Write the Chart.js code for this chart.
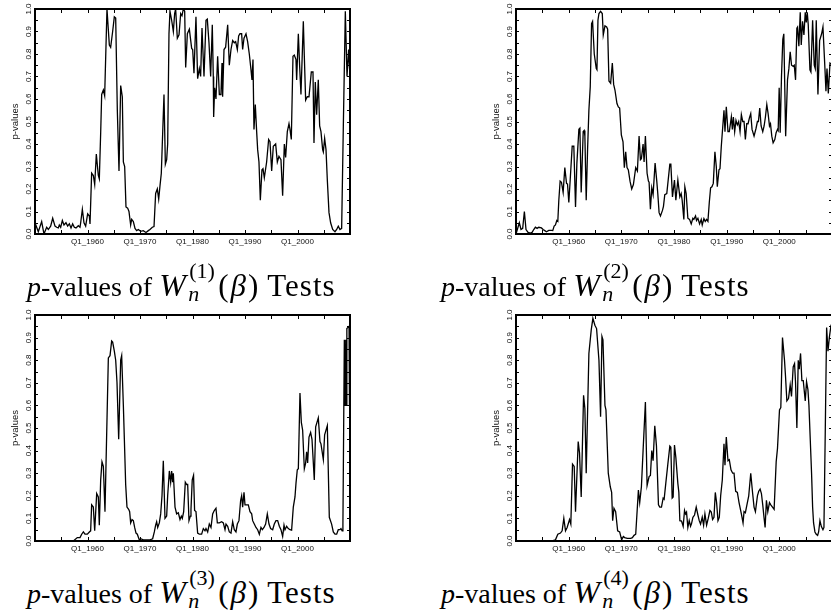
<!DOCTYPE html>
<html><head><meta charset="utf-8">
<script src="https://cdn.jsdelivr.net/npm/chart.js@4.4.0/dist/chart.umd.min.js"></script>
<style>
html,body{margin:0;padding:0;width:831px;height:613px;overflow:hidden;background:#fff;}
canvas{position:absolute;}
.cap{position:absolute;font-family:"Liberation Serif","Times New Roman",serif;font-size:28px;line-height:40px;height:40px;white-space:nowrap;color:#000;}
.cap i{font-style:italic;}
.cap .W{display:inline-block;width:30px;font-size:32px;font-style:italic;}
.cap .ss{display:inline-block;position:relative;width:29px;height:1px;vertical-align:baseline;}
.cap .ss .sup{position:absolute;left:0;top:-35px;font-size:22px;line-height:22px;}
.cap .ss .sub{position:absolute;left:-1px;top:-12px;font-size:22px;line-height:22px;font-style:italic;}
.cap .b{font-size:31px;letter-spacing:2px;}
.cap .t{font-size:31px;letter-spacing:1px;}
</style></head>
<body>
<canvas id="c1" width="415" height="255" style="left:0;top:0"></canvas>
<canvas id="c2" width="420" height="255" style="left:415px;top:0"></canvas>
<canvas id="c3" width="415" height="260" style="left:0;top:300px"></canvas>
<canvas id="c4" width="420" height="260" style="left:415px;top:300px"></canvas>
<div class="cap" style="left:27px;top:265px"><i>p</i>-values of <span class="W">W</span><span class="ss"><span class="sup">(1)</span><span class="sub">n</span></span><span class="b">(<i>β</i>)</span> <span class="t">Tests</span></div>
<div class="cap" style="left:441px;top:265px"><i>p</i>-values of <span class="W">W</span><span class="ss"><span class="sup">(2)</span><span class="sub">n</span></span><span class="b">(<i>β</i>)</span> <span class="t">Tests</span></div>
<div class="cap" style="left:27px;top:572px"><i>p</i>-values of <span class="W">W</span><span class="ss"><span class="sup">(3)</span><span class="sub">n</span></span><span class="b">(<i>β</i>)</span> <span class="t">Tests</span></div>
<div class="cap" style="left:441px;top:572px"><i>p</i>-values of <span class="W">W</span><span class="ss"><span class="sup">(4)</span><span class="sub">n</span></span><span class="b">(<i>β</i>)</span> <span class="t">Tests</span></div>
<script>
// ---- data ----
const xTickYears = [1960, 1970, 1980, 1990, 2000];
const xTickLabels = ['Q1_1960', 'Q1_1970', 'Q1_1980', 'Q1_1990', 'Q1_2000'];
const yTickValues = [0, 0.1, 0.2, 0.3, 0.4, 0.5, 0.6, 0.7, 0.8, 0.9, 1.0];
const yAxisTitle = 'p-values';

// [year, p-value] for W_n^(1)
const series1 = [
[1950.00,0.050],[1950.63,0.010],[1951.27,0.055],[1951.71,0.000],[1952.22,0.030],[1952.54,0.020],[1952.98,0.035],[1953.37,0.070],[1953.81,0.035],[1954.13,0.030],
[1954.44,0.027],[1954.63,0.040],[1954.89,0.030],[1955.21,0.060],[1955.52,0.040],[1955.90,0.050],[1956.22,0.035],[1956.54,0.045],[1956.86,0.027],[1957.17,0.045],
[1957.49,0.030],[1957.81,0.027],[1958.25,0.037],[1958.57,0.030],[1958.70,0.050],[1959.02,0.110],[1959.33,0.050],[1959.65,0.035],[1960.03,0.090],[1960.35,0.080],
[1960.48,0.045],[1960.79,0.270],[1961.11,0.260],[1961.37,0.220],[1961.68,0.355],[1962.06,0.260],[1962.25,0.245],[1962.51,0.450],[1962.70,0.620],[1963.02,0.640],
[1963.27,0.615],[1963.71,1.000],[1964.16,0.840],[1964.41,0.830],[1964.79,0.900],[1965.11,0.965],[1965.37,0.960],[1965.68,0.550],[1966.00,0.280],[1966.32,0.660],
[1966.63,0.610],[1966.83,0.320],[1967.08,0.300],[1967.33,0.120],[1967.65,0.115],[1967.90,0.100],[1968.22,0.040],[1968.41,0.065],[1968.73,0.055],[1969.05,0.025],
[1969.37,0.015],[1969.68,0.020],[1970.13,0.012],[1970.63,0.015],[1971.14,0.007],[1971.59,0.015],[1971.90,0.020],[1972.35,0.030],[1972.67,0.033],[1972.98,0.180],
[1973.30,0.200],[1973.56,0.155],[1973.81,0.215],[1974.06,0.270],[1974.32,0.450],[1974.57,0.620],[1974.83,0.310],[1975.08,0.330],[1975.27,0.400],[1975.52,0.890],
[1975.71,0.990],[1976.03,0.950],[1976.35,0.900],[1976.60,0.980],[1976.79,1.000],[1977.11,0.870],[1977.43,0.885],[1977.75,0.980],[1978.00,0.970],[1978.25,1.000],
[1978.51,0.990],[1978.70,0.740],[1979.02,0.890],[1979.40,0.910],[1979.84,0.825],[1980.03,0.820],[1980.28,0.715],[1980.66,0.965],[1980.98,0.690],[1981.30,0.735],
[1981.55,0.700],[1981.81,0.915],[1982.19,0.700],[1982.57,0.950],[1982.82,0.955],[1983.14,0.850],[1983.46,0.700],[1983.77,0.930],[1983.96,0.700],[1984.03,0.520],
[1984.22,0.650],[1984.47,0.600],[1984.79,0.790],[1985.11,0.620],[1985.42,0.620],[1985.62,0.760],[1985.74,0.610],[1986.00,0.820],[1986.31,0.830],[1986.70,0.930],
[1987.01,0.750],[1987.33,0.820],[1987.65,0.860],[1987.96,0.850],[1988.22,0.855],[1988.54,0.820],[1988.79,0.880],[1989.04,0.890],[1989.36,0.890],[1989.55,0.820],
[1989.81,0.870],[1990.19,0.890],[1990.50,0.855],[1990.82,0.800],[1991.14,0.730],[1991.33,0.685],[1991.52,0.775],[1991.71,0.465],[1991.96,0.575],[1992.22,0.455],
[1992.41,0.375],[1992.66,0.320],[1992.92,0.150],[1993.23,0.285],[1993.43,0.290],[1993.68,0.250],[1994.12,0.320],[1994.50,0.420],[1994.76,0.410],[1995.08,0.280],
[1995.39,0.390],[1995.84,0.400],[1996.16,0.320],[1996.47,0.345],[1996.85,0.330],[1997.17,0.170],[1997.49,0.400],[1997.74,0.340],[1998.06,0.455],[1998.38,0.490],
[1998.57,0.465],[1998.82,0.420],[1999.14,0.790],[1999.39,0.795],[1999.71,0.775],[1999.84,0.685],[2000.16,0.890],[2000.41,0.745],[2000.66,0.620],[2001.11,0.945],
[2001.30,0.790],[2001.55,0.595],[2001.87,0.610],[2002.19,0.610],[2002.63,0.720],[2002.95,0.720],[2003.14,0.405],[2003.39,0.675],[2003.65,0.530],[2003.96,0.685],
[2004.22,0.480],[2004.47,0.455],[2004.79,0.375],[2004.92,0.365],[2005.17,0.425],[2005.43,0.375],[2005.68,0.240],[2006.00,0.095],[2006.31,0.050],[2006.70,0.020],
[2007.14,0.010],[2007.46,0.020],[2007.77,0.035],[2008.09,0.020],[2008.41,0.025],[2008.73,0.480],[2009.11,0.990],[2009.43,0.700],[2009.74,0.820],[2010.00,0.700]
];

// [year, p-value] for W_n^(2)
const series2 = [
[1950.00,0.000],[1950.63,0.050],[1950.95,0.020],[1951.27,0.025],[1951.59,0.100],[1951.90,0.020],[1952.29,0.007],[1952.73,0.004],[1953.05,0.007],[1953.37,0.020],
[1953.68,0.030],[1954.00,0.025],[1954.32,0.030],[1954.83,0.027],[1955.14,0.020],[1955.46,0.015],[1955.78,0.010],[1956.22,0.016],[1956.73,0.016],[1956.98,0.015],
[1957.24,0.035],[1957.49,0.040],[1957.75,0.060],[1957.94,0.056],[1958.13,0.150],[1958.38,0.235],[1958.63,0.230],[1958.95,0.185],[1959.27,0.295],[1959.59,0.225],
[1959.78,0.222],[1960.03,0.140],[1960.29,0.240],[1960.67,0.390],[1960.98,0.390],[1961.30,0.120],[1961.56,0.315],[1961.94,0.465],[1962.13,0.470],[1962.38,0.185],
[1962.76,0.455],[1962.95,0.460],[1963.08,0.435],[1963.33,0.150],[1963.59,0.375],[1963.84,0.550],[1964.10,0.655],[1964.35,0.935],[1964.54,0.945],[1964.86,0.800],
[1965.24,0.735],[1965.37,0.730],[1965.56,0.950],[1965.75,0.980],[1966.06,0.990],[1966.38,0.980],[1966.57,0.885],[1966.89,0.925],[1967.21,0.920],[1967.40,0.910],
[1967.65,0.680],[1967.97,0.670],[1968.29,0.760],[1968.54,0.665],[1968.79,0.640],[1969.17,0.580],[1969.43,0.565],[1969.68,0.560],[1970.00,0.440],[1970.32,0.410],
[1970.57,0.295],[1970.83,0.365],[1971.08,0.295],[1971.33,0.285],[1971.65,0.235],[1971.97,0.200],[1972.29,0.220],[1972.73,0.295],[1973.05,0.280],[1973.37,0.435],
[1973.62,0.330],[1973.81,0.335],[1974.13,0.400],[1974.32,0.320],[1974.57,0.435],[1974.89,0.270],[1975.14,0.235],[1975.27,0.230],[1975.52,0.110],[1975.78,0.205],
[1976.03,0.175],[1976.41,0.315],[1976.73,0.235],[1976.92,0.180],[1977.17,0.095],[1977.43,0.080],[1977.81,0.105],[1978.00,0.123],[1978.25,0.175],[1978.63,0.180],
[1979.21,0.310],[1979.40,0.310],[1979.71,0.165],[1980.09,0.240],[1980.35,0.150],[1980.73,0.240],[1981.11,0.165],[1981.36,0.180],[1981.55,0.150],[1981.87,0.065],
[1982.06,0.210],[1982.31,0.180],[1982.63,0.070],[1982.95,0.065],[1983.27,0.045],[1983.58,0.070],[1983.77,0.065],[1984.09,0.080],[1984.28,0.060],[1984.54,0.070],
[1984.86,0.045],[1985.17,0.065],[1985.36,0.040],[1985.68,0.068],[1985.93,0.056],[1986.19,0.065],[1986.44,0.056],[1986.70,0.140],[1986.95,0.205],[1987.20,0.210],
[1987.46,0.225],[1987.77,0.365],[1988.03,0.300],[1988.22,0.210],[1988.54,0.285],[1988.73,0.290],[1988.98,0.390],[1989.49,0.550],[1989.68,0.455],[1989.93,0.565],
[1990.25,0.455],[1990.50,0.455],[1990.89,0.520],[1991.08,0.465],[1991.27,0.520],[1991.52,0.455],[1991.77,0.505],[1992.03,0.485],[1992.28,0.500],[1992.54,0.455],
[1992.79,0.530],[1993.05,0.500],[1993.30,0.500],[1993.55,0.420],[1993.81,0.490],[1994.06,0.490],[1994.31,0.515],[1994.57,0.535],[1994.82,0.465],[1995.20,0.435],
[1995.58,0.470],[1995.84,0.500],[1996.03,0.500],[1996.28,0.560],[1996.54,0.480],[1996.85,0.455],[1997.11,0.480],[1997.36,0.520],[1997.62,0.575],[1997.87,0.535],
[1998.13,0.480],[1998.32,0.490],[1998.57,0.435],[1998.82,0.405],[1999.14,0.420],[1999.39,0.450],[1999.65,0.465],[1999.78,0.460],[1999.97,0.650],[2000.16,0.450],
[2000.41,0.700],[2000.66,0.865],[2000.85,0.890],[2001.20,0.435],[2001.55,0.685],[2001.81,0.735],[2002.06,0.810],[2002.32,0.750],[2002.63,0.745],[2002.83,0.750],
[2003.08,0.685],[2003.33,0.915],[2003.46,0.920],[2003.71,0.835],[2003.97,0.985],[2004.16,0.840],[2004.41,0.945],[2004.67,0.885],[2004.92,0.985],[2005.11,0.940],
[2005.30,0.985],[2005.49,0.930],[2005.81,0.730],[2006.00,0.720],[2006.32,0.950],[2006.63,0.750],[2006.82,0.735],[2007.01,0.950],[2007.33,0.620],[2007.65,0.860],
[2008.03,0.890],[2008.28,0.920],[2008.66,0.735],[2008.85,0.635],[2009.05,0.735],[2009.30,0.625],[2009.62,0.760],[2009.87,0.755]
];

// [year, p-value] for W_n^(3)
const series3 = [
[1950.00,0.000],[1957.30,0.000],[1958.06,0.015],[1958.57,0.015],[1958.89,0.030],[1959.21,0.040],[1959.52,0.030],[1959.97,0.030],[1960.35,0.040],[1960.60,0.045],
[1960.79,0.160],[1961.11,0.150],[1961.37,0.045],[1961.75,0.210],[1962.06,0.195],[1962.25,0.070],[1962.51,0.270],[1962.76,0.350],[1963.02,0.330],[1963.33,0.130],
[1963.97,0.810],[1964.29,0.820],[1964.60,0.885],[1964.79,0.880],[1965.11,0.840],[1965.37,0.800],[1965.62,0.700],[1965.94,0.450],[1966.32,0.800],[1966.51,0.820],
[1966.83,0.600],[1967.02,0.450],[1967.27,0.250],[1967.52,0.150],[1967.84,0.140],[1968.03,0.130],[1968.22,0.080],[1968.48,0.095],[1968.73,0.090],[1968.98,0.060],
[1969.24,0.035],[1969.49,0.030],[1969.87,0.005],[1970.13,0.010],[1970.63,0.005],[1971.27,0.005],[1971.90,0.005],[1972.41,0.010],[1972.73,0.040],[1972.98,0.070],
[1973.17,0.085],[1973.37,0.060],[1973.68,0.080],[1973.94,0.120],[1974.19,0.200],[1974.44,0.355],[1974.76,0.100],[1975.08,0.110],[1975.27,0.200],[1975.59,0.310],
[1975.84,0.260],[1976.03,0.310],[1976.22,0.260],[1976.35,0.300],[1976.67,0.150],[1976.98,0.120],[1977.30,0.125],[1977.62,0.095],[1977.87,0.110],[1978.06,0.100],
[1978.32,0.130],[1978.63,0.260],[1978.89,0.250],[1979.08,0.250],[1979.33,0.090],[1979.59,0.110],[1979.71,0.140],[1979.95,0.270],[1980.20,0.290],[1980.40,0.135],
[1980.66,0.130],[1980.98,0.035],[1981.30,0.030],[1981.74,0.030],[1982.06,0.055],[1982.38,0.045],[1982.57,0.055],[1982.89,0.040],[1983.20,0.075],[1983.52,0.060],
[1983.84,0.120],[1984.15,0.135],[1984.47,0.145],[1984.73,0.080],[1985.11,0.080],[1985.55,0.085],[1985.87,0.080],[1986.19,0.050],[1986.38,0.075],[1986.70,0.065],
[1987.01,0.040],[1987.33,0.035],[1987.65,0.085],[1987.96,0.050],[1988.28,0.040],[1988.54,0.075],[1988.85,0.090],[1989.17,0.180],[1989.36,0.200],[1989.55,0.150],
[1989.81,0.215],[1990.00,0.160],[1990.31,0.160],[1990.63,0.160],[1990.95,0.130],[1991.27,0.120],[1991.46,0.090],[1991.77,0.075],[1992.09,0.060],[1992.41,0.050],
[1992.73,0.030],[1993.04,0.060],[1993.30,0.050],[1993.62,0.060],[1993.93,0.075],[1994.25,0.120],[1994.57,0.075],[1994.88,0.055],[1995.27,0.050],[1995.58,0.075],
[1995.90,0.090],[1996.22,0.090],[1996.54,0.065],[1996.85,0.050],[1997.17,0.020],[1997.43,0.070],[1997.62,0.050],[1997.93,0.065],[1998.25,0.055],[1998.57,0.050],
[1998.88,0.048],[1999.20,0.150],[1999.52,0.195],[1999.71,0.255],[1999.96,0.315],[2000.16,0.320],[2000.47,0.655],[2000.73,0.525],[2000.98,0.490],[2001.30,0.320],
[2001.55,0.345],[2001.74,0.395],[2001.93,0.345],[2002.19,0.460],[2002.50,0.480],[2002.76,0.450],[2003.20,0.270],[2003.46,0.505],[2003.71,0.525],[2003.96,0.545],
[2004.28,0.440],[2004.47,0.430],[2004.92,0.360],[2005.17,0.470],[2005.36,0.485],[2005.68,0.510],[2006.06,0.105],[2006.50,0.075],[2006.82,0.040],[2007.14,0.030],
[2007.46,0.030],[2007.77,0.050],[2008.09,0.050],[2008.28,0.055],[2008.50,0.045],[2008.65,0.070],[2008.92,0.890],[2009.05,0.600],[2009.18,0.890],[2009.28,0.600],
[2009.40,0.940],[2009.82,0.950],[2009.90,0.600],[2010.00,0.950]
];

// [year, p-value] for W_n^(4)
const series4 = [
[1950.00,0.000],[1957.00,0.002],[1957.49,0.005],[1957.94,0.030],[1958.44,0.035],[1958.76,0.045],[1959.08,0.100],[1959.40,0.045],[1959.71,0.060],[1960.16,0.095],
[1960.41,0.075],[1960.73,0.340],[1961.05,0.330],[1961.30,0.130],[1961.81,0.440],[1962.06,0.390],[1962.38,0.195],[1962.83,0.645],[1963.08,0.585],[1963.33,0.300],
[1963.84,0.830],[1964.29,0.935],[1964.60,0.985],[1964.98,0.955],[1965.30,0.940],[1965.75,0.800],[1966.06,0.550],[1966.32,0.905],[1966.51,0.890],[1966.89,0.600],
[1967.08,0.580],[1967.52,0.300],[1967.90,0.240],[1968.16,0.215],[1968.35,0.090],[1968.60,0.145],[1968.92,0.130],[1969.30,0.045],[1969.68,0.040],[1970.06,0.005],
[1970.38,0.020],[1970.63,0.015],[1971.14,0.012],[1971.78,0.012],[1972.10,0.015],[1972.41,0.025],[1972.73,0.030],[1973.24,0.225],[1973.49,0.170],[1973.81,0.240],
[1974.13,0.400],[1974.57,0.615],[1974.89,0.245],[1975.27,0.285],[1975.52,0.290],[1975.78,0.400],[1976.03,0.355],[1976.35,0.510],[1976.67,0.420],[1977.05,0.160],
[1977.30,0.150],[1977.62,0.150],[1977.94,0.190],[1978.13,0.185],[1978.44,0.255],[1978.83,0.340],[1979.21,0.420],[1979.40,0.415],[1979.65,0.190],[1979.84,0.195],
[1980.09,0.425],[1980.35,0.370],[1980.73,0.255],[1980.92,0.215],[1981.11,0.090],[1981.43,0.088],[1981.74,0.065],[1982.00,0.135],[1982.19,0.120],[1982.38,0.128],
[1982.63,0.060],[1982.89,0.090],[1983.14,0.065],[1983.33,0.077],[1983.59,0.105],[1983.90,0.115],[1984.22,0.150],[1984.54,0.115],[1984.79,0.090],[1985.04,0.075],
[1985.36,0.105],[1985.62,0.070],[1985.87,0.120],[1986.19,0.070],[1986.50,0.100],[1986.82,0.135],[1987.08,0.128],[1987.33,0.095],[1987.59,0.105],[1987.84,0.215],
[1988.09,0.170],[1988.35,0.090],[1988.60,0.105],[1988.86,0.200],[1989.17,0.270],[1989.49,0.430],[1989.68,0.335],[1989.93,0.460],[1990.25,0.355],[1990.50,0.360],
[1990.82,0.315],[1991.14,0.300],[1991.40,0.300],[1991.71,0.220],[1992.03,0.215],[1992.35,0.170],[1992.79,0.120],[1993.11,0.080],[1993.30,0.130],[1993.55,0.125],
[1993.93,0.170],[1994.19,0.200],[1994.57,0.300],[1994.89,0.220],[1995.20,0.150],[1995.46,0.130],[1995.84,0.200],[1996.09,0.220],[1996.35,0.230],[1996.60,0.210],
[1996.85,0.160],[1997.11,0.100],[1997.30,0.060],[1997.55,0.180],[1997.81,0.130],[1998.13,0.170],[1998.38,0.160],[1998.70,0.150],[1999.01,0.140],[1999.40,0.350],
[1999.65,0.410],[2000.03,0.580],[2000.28,0.590],[2000.60,0.900],[2000.98,0.800],[2001.17,0.730],[2001.43,0.620],[2001.74,0.630],[2002.06,0.690],[2002.31,0.640],
[2002.63,0.770],[2002.89,0.785],[2003.08,0.700],[2003.33,0.500],[2003.59,0.800],[2003.78,0.760],[2004.03,0.830],[2004.28,0.710],[2004.54,0.710],[2004.92,0.620],
[2005.17,0.705],[2005.43,0.670],[2005.62,0.600],[2005.87,0.450],[2006.12,0.300],[2006.32,0.150],[2006.50,0.080],[2006.76,0.040],[2007.01,0.030],[2007.27,0.025],
[2007.46,0.040],[2007.71,0.090],[2007.97,0.065],[2008.28,0.050],[2008.47,0.060],[2008.73,0.500],[2008.98,0.945],[2009.24,0.840],[2009.49,0.900],[2009.81,0.955],
[2010.00,0.960]
];

// ---- drawing ----
const axisDecor = {
  id: 'axisDecor',
  afterDraw(chart) {
    const ctx = chart.ctx, a = chart.chartArea;
    const xs = chart.scales.x, ys = chart.scales.y;
    ctx.save();
    ctx.strokeStyle = '#000';
    ctx.lineWidth = 1;
    ctx.beginPath();
    for (let yr = 1950; yr <= 2010; yr += 5) {
      const px = Math.round(xs.getPixelForValue(yr)) + 0.5;
      ctx.moveTo(px, a.bottom); ctx.lineTo(px, a.bottom - 4);
      ctx.moveTo(px, a.top); ctx.lineTo(px, a.top + 4);
    }
    for (let k = 0; k <= 20; k++) {
      const py = Math.round(ys.getPixelForValue(k * 0.05)) + 0.5;
      ctx.moveTo(a.left, py); ctx.lineTo(a.left + 3, py);
      ctx.moveTo(a.right, py); ctx.lineTo(a.right - 3, py);
    }
    ctx.stroke();
    ctx.lineWidth = 2;
    ctx.strokeRect(a.left, a.top, a.right - a.left, a.bottom - a.top);
    ctx.fillStyle = '#111';
    ctx.textAlign = 'center';
    ctx.textBaseline = 'middle';
    ctx.font = '8px "Liberation Sans", Arial, sans-serif';
    xTickYears.forEach((yr, i) => {
      ctx.fillText(xTickLabels[i], xs.getPixelForValue(yr), a.bottom + 8);
    });
    yTickValues.forEach(v => {
      ctx.save();
      ctx.translate(a.left - 6, ys.getPixelForValue(v));
      ctx.rotate(-Math.PI / 2);
      ctx.fillText(v.toFixed(1), 0, 0);
      ctx.restore();
    });
    ctx.font = '9.5px "Liberation Sans", Arial, sans-serif';
    ctx.save();
    ctx.translate(a.left - 20, (a.top + a.bottom) / 2);
    ctx.rotate(-Math.PI / 2);
    ctx.fillText(yAxisTitle, 0, 0);
    ctx.restore();
    ctx.restore();
  }
};

function makePanel(id, series, pad) {
  new Chart(document.getElementById(id), {
    type: 'line',
    data: {
      datasets: [{
        data: series.map(p => ({x: p[0], y: p[1]})),
        borderColor: '#000',
        borderWidth: 1.3,
        pointRadius: 0,
        tension: 0,
        fill: false
      }]
    },
    options: {
      responsive: false,
      maintainAspectRatio: false,
      animation: false,
      events: [],
      layout: {padding: pad},
      plugins: {legend: {display: false}, tooltip: {enabled: false}},
      scales: {
        x: {type: 'linear', min: 1950, max: 2010, display: false},
        y: {type: 'linear', min: 0, max: 1, display: false}
      }
    },
    plugins: [axisDecor]
  });
}

makePanel('c1', series1, {left: 35, top: 9, right: 65, bottom: 21});
makePanel('c2', series2, {left: 101, top: 9, right: 3, bottom: 21});
makePanel('c3', series3, {left: 35, top: 15, right: 65, bottom: 19});
makePanel('c4', series4, {left: 101, top: 15, right: 3, bottom: 19});
</script>
</body></html>
